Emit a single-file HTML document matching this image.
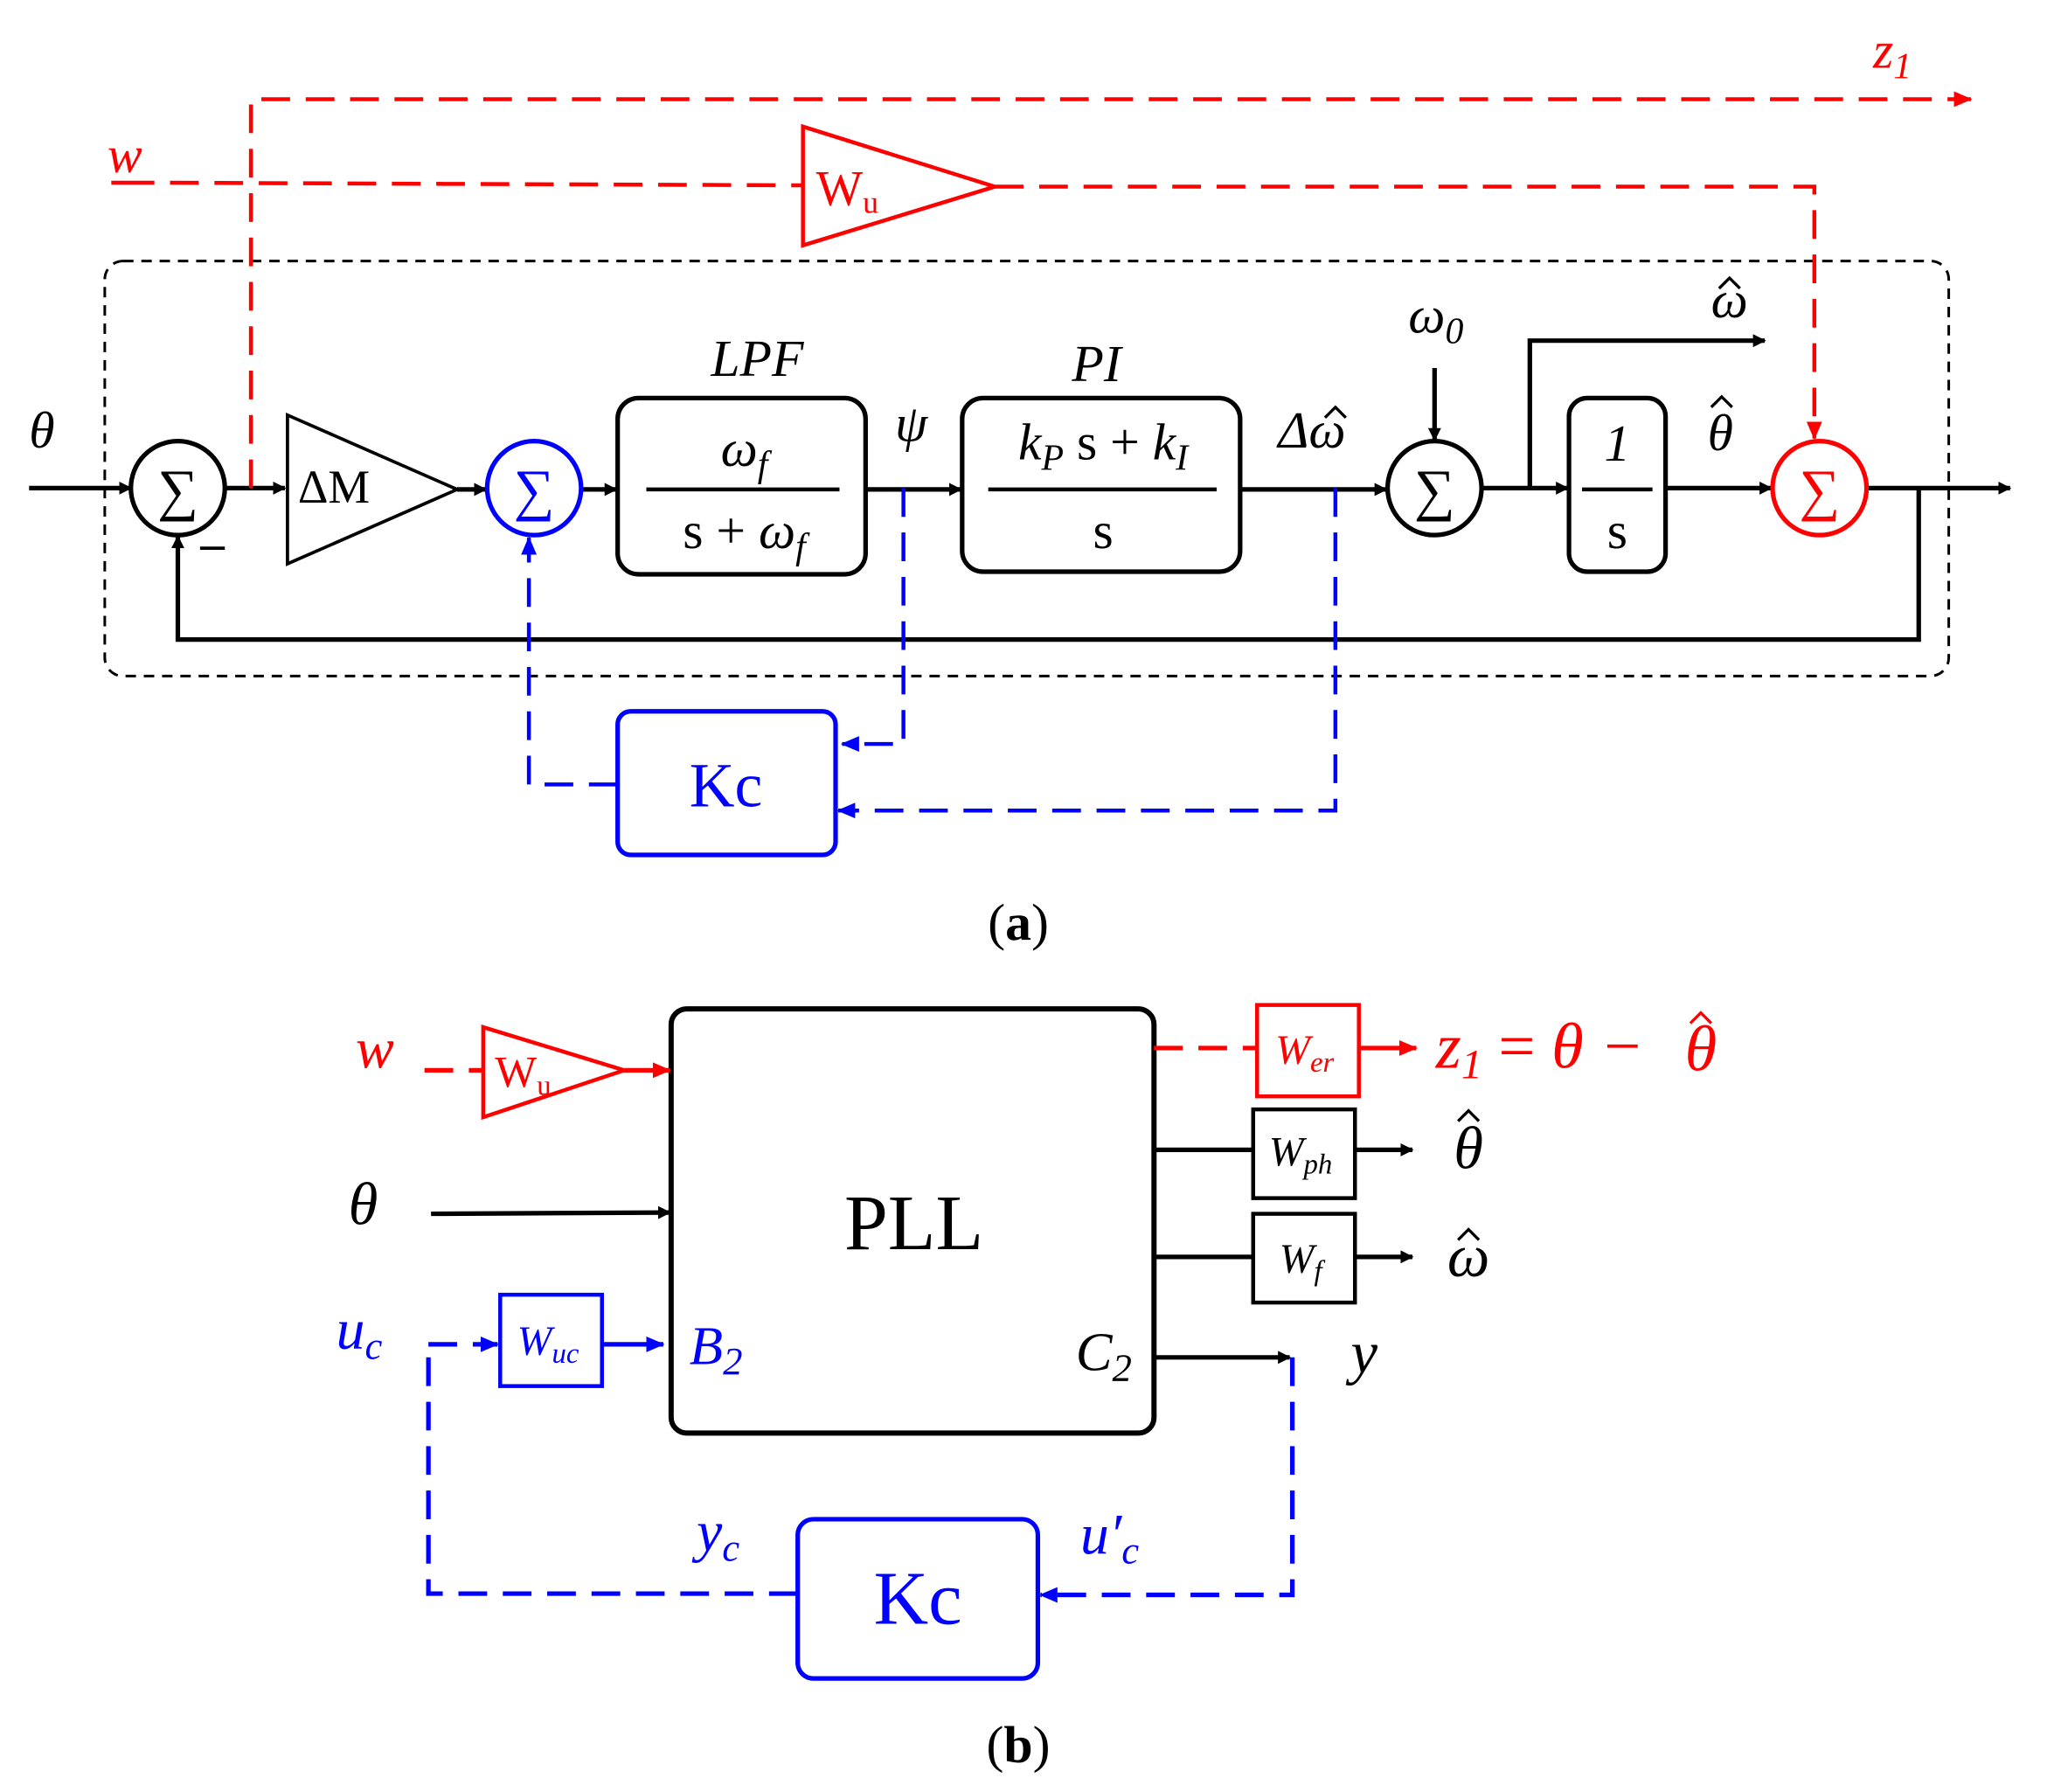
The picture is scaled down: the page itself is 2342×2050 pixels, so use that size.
<!DOCTYPE html>
<html><head><meta charset="utf-8"><style>
html,body{margin:0;padding:0;background:#fff;}
svg{display:block;}
text{font-family:"Liberation Serif",serif;}
</style></head><body>
<svg width="2342" height="2050" viewBox="0 0 1568 1373" xmlns="http://www.w3.org/2000/svg">
<defs>
<marker id="ak" markerWidth="10" markerHeight="10" refX="9" refY="5" orient="auto" markerUnits="userSpaceOnUse"><path d="M0,0 L10,5 L0,10 z" fill="#000"/></marker>
<marker id="ar" markerWidth="14" markerHeight="12" refX="13" refY="6" orient="auto" markerUnits="userSpaceOnUse"><path d="M0,0 L14,6 L0,12 z" fill="#f00"/></marker>
<marker id="ab" markerWidth="14" markerHeight="12" refX="13" refY="6" orient="auto" markerUnits="userSpaceOnUse"><path d="M0,0 L14,6 L0,12 z" fill="#00f"/></marker>
</defs>
<g fill="none">
<!-- (a) -->
<rect x="80" y="200" width="1413" height="318" rx="14" stroke="#000" stroke-width="2" stroke-dasharray="8,6"/>
<g stroke="#000" stroke-width="3.5">
<line x1="22" y1="374" x2="100" y2="374" marker-end="url(#ak)"/>
<circle cx="136" cy="374" r="36"/>
<line x1="172" y1="374" x2="218" y2="374" marker-end="url(#ak)"/>
<polygon points="220,318 220,432 350,375" stroke-width="2.5"/>
<line x1="350" y1="375" x2="372" y2="375" marker-end="url(#ak)"/>
<line x1="445" y1="375" x2="472" y2="375" marker-end="url(#ak)"/>
<rect x="473" y="305" width="190" height="135" rx="16"/>
<line x1="495" y1="375" x2="643" y2="375" stroke-width="3"/>
<line x1="663" y1="375" x2="736" y2="375" marker-end="url(#ak)"/>
<rect x="737" y="305" width="213" height="133" rx="16"/>
<line x1="757" y1="375" x2="932" y2="375" stroke-width="3"/>
<line x1="950" y1="375" x2="1062" y2="375" marker-end="url(#ak)"/>
<circle cx="1099" cy="374" r="36"/>
<line x1="1099" y1="282" x2="1099" y2="337" marker-end="url(#ak)"/>
<line x1="1135" y1="374" x2="1201" y2="374" marker-end="url(#ak)"/>
<polyline points="1172,374 1172,261 1352,261" marker-end="url(#ak)"/>
<rect x="1202" y="305" width="74" height="133" rx="14"/>
<line x1="1212" y1="375" x2="1266" y2="375" stroke-width="3"/>
<line x1="1276" y1="374" x2="1357" y2="374" marker-end="url(#ak)"/>
<line x1="1430" y1="374" x2="1540" y2="374" marker-end="url(#ak)"/>
<polyline points="1470,374 1470,490 136,490 136,411" marker-end="url(#ak)"/>
<line x1="153" y1="420" x2="172" y2="420" stroke-width="2.5"/>
</g>
<circle cx="409" cy="374" r="36" stroke="#00f" stroke-width="3.5"/>
<circle cx="1394" cy="374" r="36" stroke="#f00" stroke-width="3.5"/>
<g stroke="#f00" stroke-width="3" stroke-dasharray="22,12">
<polyline points="192,374 192,76 1510,76" marker-end="url(#ar)"/>
<line x1="130" y1="140" x2="615" y2="142"/>
<polyline points="762,143 1390,143 1390,336" marker-end="url(#ar)"/>
</g>
<polygon points="615,97 615,188 762,143" stroke="#f00" stroke-width="3"/>
<line x1="85" y1="140" x2="118" y2="140" stroke="#f00" stroke-width="3"/>
<g stroke="#00f" stroke-width="3" stroke-dasharray="22,12">
<polyline points="692,374 692,570 645,570" marker-end="url(#ab)"/>
<polyline points="1023,374 1023,621 642,621" marker-end="url(#ab)"/>
<polyline points="473,601 405,601 405,412" marker-end="url(#ab)"/>
</g>
<rect x="473" y="545" width="167" height="110" rx="10" stroke="#00f" stroke-width="3.5"/>
<!-- hats -->
<g stroke="#000" stroke-width="2.2">
<polyline points="1015,320 1023,312 1031,320"/>
<polyline points="1317,221 1325,213 1333,221"/>
<polyline points="1311,312 1319,304 1327,312"/>
<polyline points="1117,859 1125,851 1133,859"/>
<polyline points="1117,950 1125,942 1133,950"/>
</g>
<polyline points="1295,784 1303,776 1311,784" stroke="#f00" stroke-width="2.2"/>
<!-- (b) -->
<rect x="514" y="773" width="370" height="325" rx="12" stroke="#000" stroke-width="4"/>
<line x1="325" y1="820" x2="370" y2="820" stroke="#f00" stroke-width="3.5" stroke-dasharray="22,12"/>
<polygon points="370,787 370,856 478,820" stroke="#f00" stroke-width="3"/>
<line x1="478" y1="820" x2="513" y2="820" stroke="#f00" stroke-width="3.5" marker-end="url(#ar)"/>
<line x1="330" y1="930" x2="513" y2="929" stroke="#000" stroke-width="3.5" marker-end="url(#ak)"/>
<line x1="328" y1="1030" x2="381" y2="1030" stroke="#00f" stroke-width="3.5" stroke-dasharray="22,12" marker-end="url(#ab)"/>
<rect x="383" y="992" width="78" height="70" stroke="#00f" stroke-width="3"/>
<line x1="461" y1="1030" x2="508" y2="1030" stroke="#00f" stroke-width="3.5" marker-end="url(#ab)"/>
<line x1="884" y1="803" x2="963" y2="803" stroke="#f00" stroke-width="3.5" stroke-dasharray="22,12"/>
<rect x="963" y="770" width="78" height="70" stroke="#f00" stroke-width="3"/>
<line x1="1041" y1="803" x2="1085" y2="803" stroke="#f00" stroke-width="3.5" marker-end="url(#ar)"/>
<g stroke="#000" stroke-width="3.5">
<line x1="884" y1="881" x2="960" y2="881"/>
<rect x="960" y="850" width="78" height="68" stroke-width="3"/>
<line x1="1038" y1="881" x2="1082" y2="881" marker-end="url(#ak)"/>
<line x1="884" y1="963" x2="960" y2="963"/>
<rect x="960" y="930" width="78" height="68" stroke-width="3"/>
<line x1="1038" y1="963" x2="1082" y2="963" marker-end="url(#ak)"/>
<line x1="884" y1="1040" x2="988" y2="1040" marker-end="url(#ak)"/>
</g>
<g stroke="#00f" stroke-width="3.5" stroke-dasharray="22,12">
<polyline points="990,1040 990,1222 797,1222" marker-end="url(#ab)"/>
<polyline points="611,1221 328,1221 328,1030"/>
</g>
<rect x="611" y="1164" width="184" height="122" rx="12" stroke="#00f" stroke-width="3.5"/>
</g>
<!-- text (a) -->
<g font-size="40" fill="#000">
<text x="22" y="343" font-style="italic">θ</text>
<text x="136" y="390" text-anchor="middle" font-size="44">∑</text>
<text x="228" y="385" font-size="36">ΔM</text>
<text x="580" y="288" text-anchor="middle" font-style="italic">LPF</text>
<text x="570" y="357" text-anchor="middle" font-style="italic">ω<tspan font-size="28" dy="8">f</tspan></text>
<text x="570" y="420" text-anchor="middle">s + <tspan font-style="italic">ω</tspan><tspan font-size="28" dy="8" font-style="italic">f</tspan></text>
<text x="698" y="338" text-anchor="middle" font-style="italic">ψ</text>
<text x="840" y="292" text-anchor="middle" font-style="italic">PI</text>
<text x="845" y="352" text-anchor="middle"><tspan font-style="italic">k</tspan><tspan font-size="28" dy="8" font-style="italic">P</tspan><tspan dy="-8"> s + </tspan><tspan font-style="italic">k</tspan><tspan font-size="28" dy="8" font-style="italic">I</tspan></text>
<text x="845" y="420" text-anchor="middle">s</text>
<text x="1005" y="343" text-anchor="middle" font-style="italic">Δω</text>
<text x="1099" y="390" text-anchor="middle" font-size="44">∑</text>
<text x="1100" y="255" text-anchor="middle" font-style="italic">ω<tspan font-size="28" dy="8">0</tspan></text>
<text x="1325" y="243" text-anchor="middle" font-style="italic">ω</text>
<text x="1239" y="353" text-anchor="middle" font-style="italic">1</text>
<text x="1239" y="420" text-anchor="middle">s</text>
<text x="1318" y="345" text-anchor="middle" font-style="italic">θ</text>
<text x="780" y="720" text-anchor="middle">(<tspan font-weight="bold">a</tspan>)</text>
</g>
<text x="409" y="390" text-anchor="middle" font-size="44" fill="#00f">∑</text>
<text x="1394" y="390" text-anchor="middle" font-size="44" fill="#f00">∑</text>
<text x="82" y="132" font-size="40" font-style="italic" fill="#f00">w</text>
<text x="1435" y="52" font-size="40" font-style="italic" fill="#f00">z<tspan font-size="28" dy="8">1</tspan></text>
<text x="625" y="157" font-size="38" fill="#f00">W<tspan font-size="24" dy="6">u</tspan></text>
<text x="556" y="618" text-anchor="middle" font-size="48" fill="#00f">Kc</text>
<!-- text (b) -->
<text x="700" y="957" text-anchor="middle" font-size="60">PLL</text>
<text x="287" y="818" text-anchor="middle" font-size="44" font-style="italic" fill="#f00">w</text>
<text x="379" y="833" font-size="34" fill="#f00">W<tspan font-size="22" dy="6">u</tspan></text>
<text x="278" y="938" text-anchor="middle" font-size="46" font-style="italic">θ</text>
<text x="275" y="1033" text-anchor="middle" font-size="44" font-style="italic" fill="#00f">u<tspan font-size="30" dy="8">c</tspan></text>
<text x="396" y="1038" font-size="32" font-style="italic" fill="#00f">W<tspan font-size="22" dy="6">uc</tspan></text>
<text x="528" y="1045" font-size="42" font-style="italic" fill="#00f">B<tspan font-size="30" dy="8">2</tspan></text>
<text x="824" y="1050" font-size="42" font-style="italic">C<tspan font-size="30" dy="8">2</tspan></text>
<text x="977" y="815" font-size="32" font-style="italic" fill="#f00">W<tspan font-size="22" dy="6">er</tspan></text>
<text x="1100" y="818" font-size="50" font-style="italic" fill="#f00">z<tspan font-size="32" dy="8">1</tspan><tspan dy="-8" font-style="normal"> = </tspan>θ −</text>
<text x="1303" y="820" text-anchor="middle" font-size="50" font-style="italic" fill="#f00">θ</text>
<text x="972" y="893" font-size="32" font-style="italic">W<tspan font-size="22" dy="6">ph</tspan></text>
<text x="980" y="975" font-size="32" font-style="italic">W<tspan font-size="22" dy="6">f</tspan></text>
<text x="1125" y="895" text-anchor="middle" font-size="46" font-style="italic">θ</text>
<text x="1125" y="978" text-anchor="middle" font-size="46" font-style="italic">ω</text>
<text x="1045" y="1052" text-anchor="middle" font-size="46" font-style="italic">y</text>
<text x="550" y="1188" text-anchor="middle" font-size="44" font-style="italic" fill="#00f">y<tspan font-size="30" dy="8">c</tspan></text>
<text x="850" y="1190" text-anchor="middle" font-size="44" font-style="italic" fill="#00f">u′<tspan font-size="30" dy="8">c</tspan></text>
<text x="703" y="1244" text-anchor="middle" font-size="58" fill="#00f">Kc</text>
<text x="780" y="1350" text-anchor="middle" font-size="40">(<tspan font-weight="bold">b</tspan>)</text>
</svg>
</body></html>
